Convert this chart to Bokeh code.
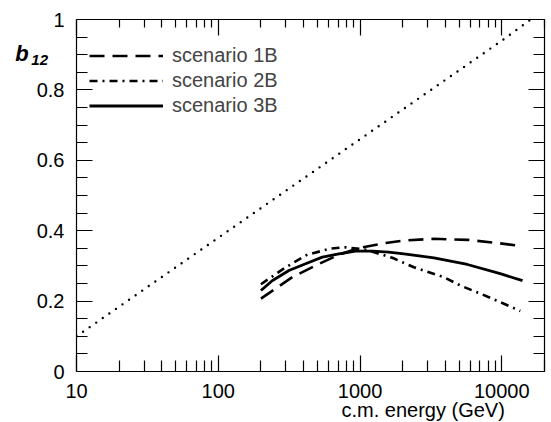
from bokeh.plotting import figure
from bokeh.models import Range1d, FixedTicker, LinearAxis, LogAxis, Label, Legend, LegendItem
from bokeh.embed import file_html
from bokeh.resources import INLINE

# ---- data ----
diag_x = [10, 100, 1000, 10000, 16000]
diag_y = [0.10, 0.38, 0.66, 0.94, 1.00]

e_1b = [200, 333, 486, 692, 980, 1520, 2040, 3320, 5720, 9350, 14000]
b_1b = [0.207, 0.268, 0.301, 0.330, 0.351, 0.365, 0.372, 0.377, 0.374, 0.365, 0.356]

e_2b = [200, 299, 425, 617, 791, 1100, 1690, 2400, 3890, 5120, 7080, 9740, 13500]
b_2b = [0.248, 0.296, 0.332, 0.349, 0.353, 0.346, 0.323, 0.296, 0.268, 0.244, 0.221, 0.197, 0.172]

e_3b = [200, 240, 315, 413, 542, 709, 930, 1220, 1590, 2040, 3320, 5720, 9740, 14000]
b_3b = [0.230, 0.258, 0.287, 0.306, 0.325, 0.334, 0.342, 0.342, 0.339, 0.334, 0.323, 0.304, 0.278, 0.258]

x_major = [10, 100, 1000, 10000]
x_minor = [m * d for d in [10, 100, 1000] for m in range(2, 10)] + [20000]
x_labels = {10: "10", 100: "100", 1000: "1000", 10000: "10000"}
y_major = [0, 0.2, 0.4, 0.6, 0.8, 1]
y_minor = [0.05, 0.1, 0.15, 0.25, 0.3, 0.35, 0.45, 0.5, 0.55, 0.65, 0.7, 0.75, 0.85, 0.9, 0.95]
y_labels = {0: "0", 0.2: "0.2", 0.4: "0.4", 0.6: "0.6", 0.8: "0.8", 1: "1"}

labels = ["scenario 1B", "scenario 2B", "scenario 3B"]

FONT = "Liberation Sans"

p = figure(width=551, height=422, x_axis_type="log",
           x_range=Range1d(10, 20000), y_range=Range1d(0, 1),
           output_backend="svg", toolbar_location=None,
           min_border_left=76, min_border_right=7, min_border_top=19, min_border_bottom=51)
p.grid.visible = False
p.outline_line_color = None
p.background_fill_color = "white"
p.border_fill_color = "white"

def style_axis(ax, ticker, show_labels, minor_len=11):
    ax.ticker = ticker
    ax.major_tick_in = 16
    ax.major_tick_out = 0
    ax.minor_tick_in = minor_len
    ax.minor_tick_out = 0
    ax.axis_line_width = 1.2
    ax.major_tick_line_width = 1.2
    ax.minor_tick_line_width = 1.2
    ax.axis_line_color = "black"
    ax.major_tick_line_color = "black"
    ax.minor_tick_line_color = "black"
    if show_labels:
        ax.major_label_text_font = FONT
        ax.major_label_text_font_size = "20px"
        ax.major_label_text_color = "black"
        ax.major_label_standoff = 12
    else:
        ax.major_label_text_font_size = "1px"
        ax.major_label_text_alpha = 0
        ax.major_label_standoff = 0

xt = FixedTicker(ticks=x_major, minor_ticks=x_minor)
yt = FixedTicker(ticks=y_major, minor_ticks=y_minor)

style_axis(p.xaxis[0], xt, True)
p.xaxis[0].major_label_overrides = x_labels
style_axis(p.yaxis[0], yt, True)
p.yaxis[0].major_label_overrides = y_labels

top = LogAxis()
style_axis(top, FixedTicker(ticks=x_major, minor_ticks=x_minor), False, minor_len=8)
p.add_layout(top, "above")
right = LinearAxis()
style_axis(right, FixedTicker(ticks=y_major, minor_ticks=y_minor), False)
p.add_layout(right, "right")

# diagonal dotted line
p.line(diag_x, diag_y, line_color="black", line_width=2.4, line_dash="0 8", line_cap="round")

r1 = p.line(e_1b, b_1b, line_color="black", line_width=2.6, line_dash="15 8")
r2 = p.line(e_2b, b_2b, line_color="black", line_width=2.6, line_dash="8 5 2 5")
r3 = p.line(e_3b, b_3b, line_color="black", line_width=2.8)

legend = Legend(items=[LegendItem(label=labels[0], renderers=[r1]),
                       LegendItem(label=labels[1], renderers=[r2]),
                       LegendItem(label=labels[2], renderers=[r3])],
                location=(13, 253), margin=0, padding=0, spacing=0,
                glyph_width=74, glyph_height=25, label_height=25, label_standoff=9,
                label_text_font=FONT, label_text_font_size="20px",
                background_fill_alpha=0, border_line_color=None)
p.add_layout(legend)

p.add_layout(Label(x=2786, y=-0.11, text="c.m. energy (GeV)", text_align="center",
                   text_baseline="alphabetic", text_font=FONT, text_font_size="20px",
                   text_color="black"), "below")
p.add_layout(Label(x=3.7, y=0.903, text="b", text_align="left", text_baseline="alphabetic",
                   text_font=FONT, text_font_size="22px", text_font_style="bold italic",
                   text_color="black"), "left")
p.add_layout(Label(x=4.8, y=0.884, text="12", text_align="left", text_baseline="alphabetic",
                   text_font=FONT, text_font_size="15px", text_font_style="bold italic",
                   text_color="black"), "left")

open("out.html", "w").write(file_html(p, INLINE))
